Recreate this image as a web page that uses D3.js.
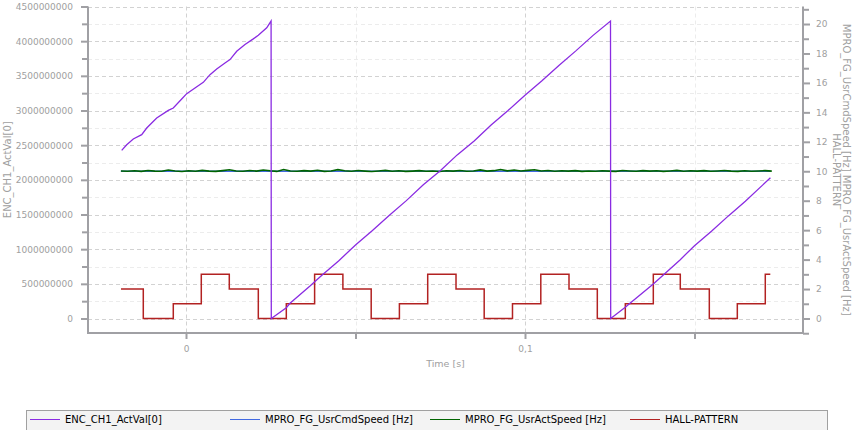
<!DOCTYPE html>
<html>
<head>
<meta charset="utf-8">
<script src="https://cdn.jsdelivr.net/npm/d3@7"></script>
<style>
  html, body { margin: 0; padding: 0; background: #ffffff; }
  svg { display: block; }
</style>
</head>
<body>
<svg id="chart" width="857" height="430"></svg>
<script>
// ---------------- DATA ----------------
const seriesNames = ["ENC_CH1_ActVal[0]", "MPRO_FG_UsrCmdSpeed [Hz]", "MPRO_FG_UsrActSpeed [Hz]", "HALL-PATTERN"];
const seriesColors = ["#8a2be2", "#4169e1", "#006400", "#b22222"];

// ENC_CH1_ActVal[0] (left axis) : time [s], counts
const encTimes = [-0.01897, -0.01749, -0.01555, -0.01307, -0.01159, -0.00864, -0.00522, -0.00375, -0.00127, 0.00021,
  0.00265, 0.00510, 0.00708, 0.00906, 0.01150, 0.01298, 0.01496, 0.01740, 0.01985, 0.02133, 0.02381, 0.02510,
  0.02516, 0.02959, 0.03068, 0.03658, 0.0400, 0.0450, 0.0500, 0.0550, 0.0600, 0.0650, 0.0700, 0.0750, 0.0800,
  0.0850, 0.0900, 0.0950, 0.1000, 0.1050, 0.1100, 0.1150, 0.1200, 0.12522,
  0.12528, 0.12959, 0.13097, 0.13785, 0.14572, 0.1500, 0.1550, 0.1600, 0.1650, 0.1700, 0.1724];
const encValues = [2424000000, 2506000000, 2589000000, 2651000000, 2747000000, 2892000000, 3002000000, 3036000000, 3166000000, 3243000000,
  3325000000, 3406000000, 3517000000, 3600000000, 3686000000, 3734000000, 3854000000, 3951000000, 4033000000, 4085000000, 4192000000, 4290000000,
  0, 156000000, 220000000, 469000000, 620000000, 830000000, 1060000000, 1270000000, 1490000000, 1700000000, 1930000000, 2130000000, 2360000000,
  2560000000, 2790000000, 3000000000, 3220000000, 3430000000, 3650000000, 3860000000, 4080000000, 4290000000,
  0, 162000000, 220000000, 498000000, 845000000, 1050000000, 1260000000, 1480000000, 1690000000, 1920000000, 2030000000];

// MPRO_FG_UsrCmdSpeed [Hz] (right axis)
const cmdTimes = [-0.0192, 0.1724];
const cmdValues = [10, 10];

// MPRO_FG_UsrActSpeed [Hz] (right axis), sampled every 2 ms from -0.0192 s
const actStart = -0.0192, actStep = 0.002;
const actValues = [
  10.02,10.00,10.03,9.99,10.05,10.01,10.00,10.08,10.02,9.98,
  10.03,10.00,10.06,10.01,9.99,10.04,10.10,10.02,10.00,10.05,
  10.01,10.09,10.03,9.99,10.12,10.02,10.00,10.04,10.01,10.07,
  9.99,10.02,10.11,10.03,10.00,10.05,10.01,9.98,10.02,10.06,
  10.00,10.03,9.99,10.01,10.04,10.00,10.02,9.98,10.03,10.01,
  10.05,10.00,10.02,10.09,10.01,10.04,10.12,10.03,10.08,10.02,
  10.06,10.10,10.02,10.05,10.00,10.03,10.01,10.04,9.99,10.02,
  10.00,10.03,10.01,9.99,10.05,10.02,10.00,10.04,10.01,10.03,
  9.99,10.02,10.06,10.00,10.03,10.01,10.04,10.00,10.02,10.05,
  10.01,9.99,10.03,10.00,10.02,10.04,10.01];

// HALL-PATTERN (right axis): step start times and levels
const hallTimes = [-0.01917, -0.01260, -0.00375, 0.00451, 0.01277, 0.02133, 0.02959, 0.03794, 0.04628, 0.05463,
  0.06295, 0.07130, 0.07965, 0.08796, 0.09631, 0.10466, 0.11298, 0.12133, 0.12959, 0.13785,
  0.14581, 0.15437, 0.16263, 0.17088, 0.17236];
const hallLevels = [2, 0, 1, 3, 2, 0, 1, 3, 2, 0, 1, 3, 2, 0, 1, 3, 2, 0, 1, 3, 2, 0, 1, 3, 3];

// Axis ticks
const leftMajor = [0, 500000000, 1000000000, 1500000000, 2000000000, 2500000000, 3000000000, 3500000000, 4000000000, 4500000000];
const leftMinor = [250000000, 750000000, 1250000000, 1750000000, 2250000000, 2750000000, 3250000000, 3750000000, 4250000000];
const rightMajor = [0, 2, 4, 6, 8, 10, 12, 14, 16, 18, 20];
const rightMinor = [-1, 1, 3, 5, 7, 9, 11, 13, 15, 17, 19, 21];
const xTicks = [0, 0.05, 0.1, 0.15];
const xTickLabels = ["0", "", "0,1", ""];
const leftTitle = "ENC_CH1_ActVal[0]";
const rightTitle1 = "MPRO_FG_UsrCmdSpeed [Hz] MPRO_FG_UsrActSpeed [Hz]";
const rightTitle2 = "HALL-PATTERN";
const xTitle = "Time [s]";

// ---------------- LAYOUT ----------------
const L = 88, R = 803, T = 6.5, B = 333;
const axisColor = "#a0a0a4", textColor = "#a0a0a0";
const font = "DejaVu Sans, Liberation Sans, Arial, sans-serif";

const x = d3.scaleLinear().domain([(L - 186) / 3390, (R - 186) / 3390]).range([L, R]);
const yL = d3.scaleLinear().domain([-209100000, 4500000000]).range([B, T]);
const yR = d3.scaleLinear().domain([-0.985, 21.19]).range([B, T]);

const svg = d3.select("#chart");

// Gridlines
const grid = svg.append("g");
function hGrid(vals, color) {
  grid.selectAll(null).data(vals).enter().append("line")
    .attr("x1", L).attr("x2", R)
    .attr("y1", d => Math.round(yL(d)) + 0.5).attr("y2", d => Math.round(yL(d)) + 0.5)
    .attr("stroke", color).attr("stroke-width", 1).attr("stroke-dasharray", "4,3");
}
hGrid(leftMinor, "#ececec");
hGrid(leftMajor, "#d2d2d2");
grid.selectAll(null).data(xTicks).enter().append("line")
  .attr("x1", d => Math.round(x(d)) + 0.5).attr("x2", d => Math.round(x(d)) + 0.5)
  .attr("y1", T).attr("y2", B)
  .attr("stroke", (d, i) => xTickLabels[i] ? "#d2d2d2" : "#ececec")
  .attr("stroke-width", 1).attr("stroke-dasharray", "4,3");

// Lines
const plot = svg.append("g");
const cmdData = cmdTimes.map((t, i) => [t, cmdValues[i]]);
const actData = actValues.map((v, i) => [actStart + i * actStep, v]);
const hallData = hallTimes.map((t, i) => [t, hallLevels[i]]);
const encData = encTimes.map((t, i) => [t, encValues[i]]);

const lineR = d3.line().x(d => x(d[0])).y(d => yR(d[1]));
const lineStep = d3.line().x(d => x(d[0])).y(d => yR(d[1])).curve(d3.curveStepAfter);
const lineL = d3.line().x(d => x(d[0])).y(d => yL(d[1]));

plot.append("path").attr("d", lineR(cmdData)).attr("fill", "none")
  .attr("stroke", seriesColors[1]).attr("stroke-width", 1.5);
plot.append("path").attr("d", lineR(actData)).attr("fill", "none")
  .attr("stroke", seriesColors[2]).attr("stroke-width", 1.6);
plot.append("path").attr("d", lineStep(hallData)).attr("fill", "none")
  .attr("stroke", seriesColors[3]).attr("stroke-width", 1.5);
plot.append("path").attr("d", lineL(encData)).attr("fill", "none")
  .attr("stroke", seriesColors[0]).attr("stroke-width", 1.3);

// Axes
function styleAxis(g) {
  g.select(".domain").remove();
  g.selectAll(".tick line").attr("stroke", axisColor).attr("stroke-width", 2);
  g.selectAll(".tick text").attr("fill", textColor).attr("font-family", font).attr("font-size", "9px");
}
// left
svg.append("g").attr("transform", `translate(${L},0)`)
  .call(d3.axisLeft(yL).tickValues(leftMinor).tickSize(6).tickFormat(""))
  .call(styleAxis);
svg.append("g").attr("transform", `translate(${L},0)`)
  .call(d3.axisLeft(yL).tickValues(leftMajor).tickSize(7).tickPadding(8).tickFormat(d3.format("d")))
  .call(styleAxis);
// right
svg.append("g").attr("transform", `translate(${R},0)`)
  .call(d3.axisRight(yR).tickValues(rightMinor).tickSize(6).tickFormat(""))
  .call(styleAxis);
svg.append("g").attr("transform", `translate(${R},0)`)
  .call(d3.axisRight(yR).tickValues(rightMajor).tickSize(7).tickPadding(6).tickFormat(d3.format("d")))
  .call(styleAxis);
// bottom
svg.append("g").attr("transform", `translate(0,${B})`)
  .call(d3.axisBottom(x).tickValues(xTicks).tickSize(6).tickPadding(7).tickFormat((d, i) => xTickLabels[i]))
  .call(styleAxis);

// axis lines
const axes = svg.append("g").attr("stroke", axisColor).attr("stroke-width", 2);
axes.append("line").attr("x1", L).attr("x2", L).attr("y1", T).attr("y2", B + 1);
axes.append("line").attr("x1", R).attr("x2", R).attr("y1", T).attr("y2", B + 1);
axes.append("line").attr("x1", L).attr("x2", R).attr("y1", B).attr("y2", B);

// Titles
svg.append("text").attr("transform", `translate(11,${(T + B) / 2}) rotate(-90)`)
  .attr("text-anchor", "middle").attr("fill", textColor)
  .attr("font-family", font).attr("font-size", "10px").text(leftTitle);
svg.append("text").attr("transform", `translate(843,${(T + B) / 2}) rotate(90)`)
  .attr("text-anchor", "middle").attr("fill", textColor)
  .attr("font-family", font).attr("font-size", "10px").text(rightTitle1);
svg.append("text").attr("transform", `translate(833,${(T + B) / 2}) rotate(90)`)
  .attr("text-anchor", "middle").attr("fill", textColor)
  .attr("font-family", font).attr("font-size", "10px").text(rightTitle2);
svg.append("text").attr("x", (L + R) / 2).attr("y", 367)
  .attr("text-anchor", "middle").attr("fill", textColor)
  .attr("font-family", font).attr("font-size", "9.5px").text(xTitle);

// Legend
const lg = svg.append("g");
lg.append("rect").attr("x", 26.5).attr("y", 410.5).attr("width", 801).attr("height", 30)
  .attr("fill", "#f3f3f3").attr("stroke", "#a0a0a0").attr("stroke-width", 1);
const items = lg.selectAll(null).data(seriesNames).enter().append("g")
  .attr("transform", (d, i) => `translate(${30 + i * 200},419)`);
items.append("line").attr("x1", 0).attr("x2", 30).attr("y1", 0.5).attr("y2", 0.5)
  .attr("stroke", (d, i) => seriesColors[i]).attr("stroke-width", 1);
items.append("text").attr("x", 35).attr("y", 4).attr("fill", "#000")
  .attr("font-family", font).attr("font-size", "10px").text(d => d);
</script>
</body>
</html>
